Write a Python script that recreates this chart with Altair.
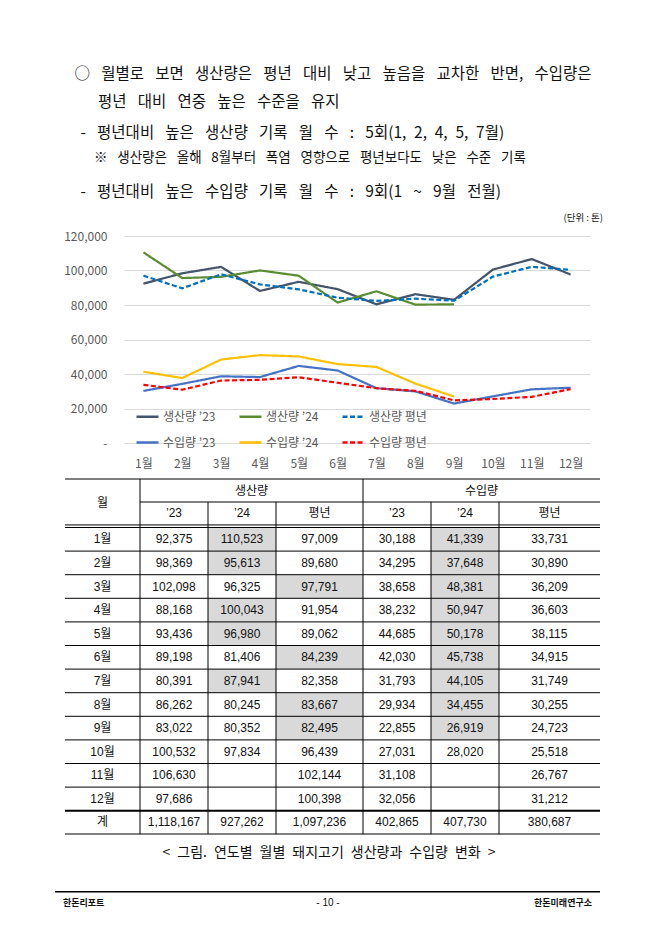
import altair as alt
import pandas as pd

# ---------------- data ----------------
months = ["1월", "2월", "3월", "4월", "5월", "6월", "7월", "8월", "9월", "10월", "11월", "12월"]
prod_23 = [92375, 98369, 102098, 88168, 93436, 89198, 80391, 86262, 83022, 100532, 106630, 97686]
prod_24 = [110523, 95613, 96325, 100043, 96980, 81406, 87941, 80245, 80352, 97834, None, None]
prod_avg = [97009, 89680, 97791, 91954, 89062, 84239, 82358, 83667, 82495, 96439, 102144, 100398]
imp_23 = [30188, 34295, 38658, 38232, 44685, 42030, 31793, 29934, 22855, 27031, 31108, 32056]
imp_24 = [41339, 37648, 48381, 50947, 50178, 45738, 44105, 34455, 26919, 28020, None, None]
imp_avg = [33731, 30890, 36209, 36603, 38115, 34915, 31749, 30255, 24723, 25518, 26767, 31212]
totals = ["1,118,167", "927,262", "1,097,236", "402,865", "407,730", "380,687"]
months_24_in_chart = 9  # '24 series plotted (and compared) through 9월

series_names = ["생산량 ’23", "생산량 ’24", "생산량 평년", "수입량 ’23", "수입량 ’24", "수입량 평년"]
series_colors = ["#44546A", "#5B8C32", "#0070C0", "#4472C4", "#FFC000", "#FF0000"]
series_dash = [[1, 0], [1, 0], [5, 2.5], [1, 0], [1, 0], [5, 2.5]]
y_ticks = [0, 20000, 40000, 60000, 80000, 100000, 120000]

col_heads = ["’23", "’24", "평년", "’23", "’24", "평년"]
group_heads = ["생산량", "수입량"]
total_label = "계"

text_l1 = "○ 월별로 보면 생산량은 평년 대비 낮고 높음을 교차한 반면, 수입량은"
text_l2 = "평년 대비 연중 높은 수준을 유지"
text_l3a = "- 평년대비 높은 생산량 기록 월 수 : 5회"
text_l3b = "(1, 2, 4, 5, 7월)"
text_l4 = "※ 생산량은 올해 8월부터 폭염 영향으로 평년보다도 낮은 수준 기록"
text_l5 = "- 평년대비 높은 수입량 기록 월 수 : 9회(1 ~ 9월 전월)"
unit_text = "(단위 : 톤)"
caption = "< 그림. 연도별 월별 돼지고기 생산량과 수입량 변화 >"
footer_left, footer_mid, footer_right = "한돈리포트", "- 10 -", "한돈미래연구소"

# ---------------- layout ----------------
OX, OY = 124, 236          # page position of plot origin
W, H = 466, 207            # plot area
PAGE_W, PAGE_H = 642, 917
KF = "Noto Sans CJK KR"
NF = "Liberation Sans, Noto Sans CJK KR"


def wide(s):
    return s.replace(" ", "\u2002 ")


def mid(s):
    return s.replace(" ", "\u2002")


def txt(s, x, y, size, align="left", weight="normal", color="#111111", font=KF):
    return alt.Chart(alt.Data(values=[{}])).mark_text(
        text=s, align=align, baseline="middle", fontSize=size,
        fontWeight=weight, color=color, font=font
    ).encode(x=alt.value(x - OX), y=alt.value(y - OY))


# ---------------- line chart ----------------
rows = []
for name, vals, n in zip(series_names,
                         [prod_23, prod_24, prod_avg, imp_23, imp_24, imp_avg],
                         [12, months_24_in_chart, 12, 12, months_24_in_chart, 12]):
    for i in range(n):
        rows.append({"month": months[i], "mi": i, "series": name, "value": vals[i]})
line_df = pd.DataFrame(rows)

leg = dict(orient="none", legendX=11, legendY=168, title=None, columns=3,
           symbolType="stroke", symbolSize=484, symbolStrokeWidth=2.5,
           labelFontSize=12, labelColor="#595959", labelFont=KF,
           columnPadding=18, rowPadding=7, labelOffset=3, padding=0,
           direction="horizontal")

lines = alt.Chart(line_df).mark_line(strokeWidth=2.2).encode(
    x=alt.X("month:N", sort=months, scale=alt.Scale(type="point", padding=0.5),
            axis=alt.Axis(title=None, labelAngle=0, domain=False, ticks=False, grid=False,
                          labelPadding=15, labelFontSize=12, labelColor="#595959", labelFont=KF)),
    y=alt.Y("value:Q", scale=alt.Scale(domain=[0, 120000], nice=False, zero=True),
            axis=alt.Axis(title=None, values=y_ticks,
                          labelExpr="datum.value == 0 ? '-' : format(datum.value, ',')",
                          domain=False, ticks=False, gridColor="#D9D9D9", gridWidth=1,
                          labelPadding=17, labelFontSize=12, labelColor="#595959", labelFont=KF)),
    color=alt.Color("series:N", scale=alt.Scale(domain=series_names, range=series_colors),
                    legend=alt.Legend(**leg)),
    strokeDash=alt.StrokeDash("series:N", scale=alt.Scale(domain=series_names, range=series_dash),
                              legend=alt.Legend(**leg)),
    order=alt.Order("mi:Q"),
)

# ---------------- table ----------------
col_edges_px = [65, 140, 208, 276, 363, 431, 499, 600]
row_edge_idx = [0, 1, 2, 14, 15]
row_edges_px = [479, 502, 527.5, 810.7, 834]
tx = alt.Scale(domain=list(range(8)), range=[e - OX for e in col_edges_px], nice=False, zero=False)
ty = alt.Scale(domain=row_edge_idx, range=[e - OY for e in row_edges_px], nice=False, zero=False)

cells = []
table_cols = [prod_23, prod_24, prod_avg, imp_23, imp_24, imp_avg]
for i, m in enumerate(months):
    r = 2 + i
    cells.append({"c": 0.5, "r": r + 0.5, "t": m})
    for j, col in enumerate(table_cols):
        v = col[i]
        cells.append({"c": j + 1.5, "r": r + 0.5, "t": "" if v is None else f"{v:,}"})
cells.append({"c": 0.5, "r": 14.5, "t": total_label})
for j, t in enumerate(totals):
    cells.append({"c": j + 1.5, "r": 14.5, "t": t})
for j, t in enumerate(col_heads):
    cells.append({"c": j + 1.5, "r": 1.45, "t": t})
cell_df = pd.DataFrame(cells)

shade = []
for i in range(months_24_in_chart):
    r = 2 + i
    cp = 2 if prod_24[i] > prod_avg[i] else 3
    ci = 5 if imp_24[i] > imp_avg[i] else 6
    shade.append({"c": cp, "c2": cp + 1, "r": r, "r2": r + 1})
    shade.append({"c": ci, "c2": ci + 1, "r": r, "r2": r + 1})
shade_df = pd.DataFrame(shade)

h_thin = [{"y": 0, "x0": 0, "x1": 7}, {"y": 1, "x0": 1, "x1": 7},
          {"y": 1.9, "x0": 0, "x1": 7}, {"y": 2, "x0": 0, "x1": 7},
          {"y": 15, "x0": 0, "x1": 7}] + [{"y": k, "x0": 0, "x1": 7} for k in range(3, 14)]
h_thick = [{"y": 14, "x0": 0, "x1": 7}]
v_rules = [{"x": 1, "y0": 0, "y1": 15}, {"x": 4, "y0": 0, "y1": 15}] + \
          [{"x": k, "y0": 1, "y1": 15} for k in (2, 3, 5, 6)]

shade_layer = alt.Chart(shade_df).mark_rect(color="#D9D9D9").encode(
    x=alt.X("c:Q", scale=tx, axis=None), x2="c2:Q",
    y=alt.Y("r:Q", scale=ty, axis=None), y2="r2:Q")
hthin_layer = alt.Chart(pd.DataFrame(h_thin)).mark_rule(color="#000000", strokeWidth=1).encode(
    x=alt.X("x0:Q", scale=tx, axis=None), x2="x1:Q", y=alt.Y("y:Q", scale=ty, axis=None))
hthick_layer = alt.Chart(pd.DataFrame(h_thick)).mark_rule(color="#000000", strokeWidth=2).encode(
    x=alt.X("x0:Q", scale=tx, axis=None), x2="x1:Q", y=alt.Y("y:Q", scale=ty, axis=None))
v_layer = alt.Chart(pd.DataFrame(v_rules)).mark_rule(color="#000000", strokeWidth=1).encode(
    x=alt.X("x:Q", scale=tx, axis=None), y=alt.Y("y0:Q", scale=ty, axis=None), y2="y1:Q")
cell_layer = alt.Chart(cell_df).mark_text(fontSize=12, font=NF, color="#111111",
                                          baseline="middle", align="center").encode(
    x=alt.X("c:Q", scale=tx, axis=None), y=alt.Y("r:Q", scale=ty, axis=None), text="t:N")

# ---------------- annotations ----------------
l3a = wide(text_l3a)
notes = [
    txt(wide(text_l1), 74.5, 73.5, 15.5),
    txt(wide(text_l2), 98, 102, 15.5),
    txt(l3a + mid(text_l3b), 80.5, 132.5, 15.5),
    txt(wide(text_l4), 94, 157.5, 13.5),
    txt(wide(text_l5), 80.5, 192, 15.5),
    txt(unit_text, 603, 218, 9.5, align="right"),
    txt("월", 102.5, 503, 12, align="center", font=NF),
    txt(group_heads[0], 251.5, 490.5, 12, align="center", font=NF),
    txt(group_heads[1], 481.5, 490.5, 12, align="center", font=NF),
    txt(mid(caption), 329, 853, 14, align="center"),
    txt(footer_left, 63, 903, 9, weight="bold"),
    txt(footer_mid, 328, 903, 10, align="center", font=NF),
    txt(footer_right, 592, 903, 9, align="right", weight="bold"),
    alt.Chart(alt.Data(values=[{}])).mark_rule(color="#000000", strokeWidth=1.5).encode(
        x=alt.value(55 - OX), x2=alt.value(600 - OX), y=alt.value(891.7 - OY)),
]

chart = alt.layer(
    lines, shade_layer, hthin_layer, hthick_layer, v_layer, cell_layer, *notes
).resolve_scale(x="independent", y="independent").properties(
    width=W, height=H,
    autosize=alt.AutoSizeParams(type="none"),
    padding={"left": OX - 8, "top": OY - 8, "right": PAGE_W - (OX - 8) - W,
             "bottom": PAGE_H - (OY - 8) - H},
    background="#FFFFFF",
).configure_view(stroke=None)

chart.save("out.html", embed_options={"renderer": "svg", "actions": False})
